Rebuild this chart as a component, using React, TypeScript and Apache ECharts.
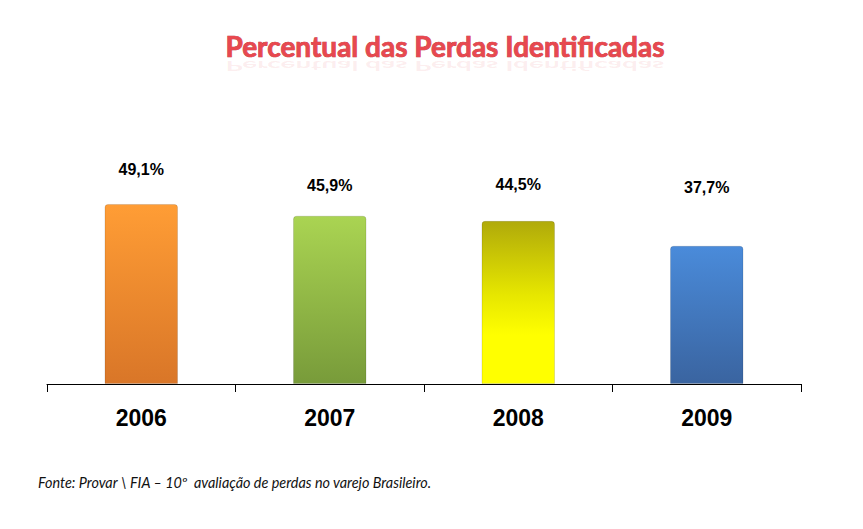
import React, { useEffect, useRef } from "react";
import * as echarts from "echarts";

const categories = ["2006", "2007", "2008", "2009"];
const values = [49.1, 45.9, 44.5, 37.7];
const valueLabels = ["49,1%", "45,9%", "44,5%", "37,7%"];
const labelDistances = [26, 22, 28, 50];
const barColors = [
  ["#FF9D35", "#D97628"],
  ["#AAD452", "#789B3A"],
  ["#B0AA0A", "#E6E600", "#FFFF00"],
  ["#4A8BDA", "#3A64A0"],
];
const titleText = "Percentual das Perdas Identificadas";
const sourceText = "Fonte: Provar \\ FIA – 10º  avaliação de perdas no varejo Brasileiro.";

export default function App() {
  const ref = useRef<HTMLDivElement>(null);
  useEffect(() => {
    if (!ref.current) return;
    const chart = echarts.init(ref.current, null, { renderer: "svg" });
    const data = values.map((v, i) => {
      const c = barColors[i];
      const stops =
        c.length === 3
          ? [
              { offset: 0, color: c[0] },
              { offset: 0.45, color: c[1] },
              { offset: 0.7, color: c[2] },
              { offset: 1, color: c[2] },
            ]
          : [
              { offset: 0, color: c[0] },
              { offset: 1, color: c[1] },
            ];
      return {
        value: v,
        itemStyle: {
          color: new echarts.graphic.LinearGradient(0, 0, 0, 1, stops),
          borderRadius: [3, 3, 0, 0],
          borderColor: "rgba(0,0,0,0.12)",
          borderWidth: 1,
        },
        label: { distance: labelDistances[i] },
      };
    });
    chart.setOption({
      animation: false,
      backgroundColor: "#ffffff",
      grid: { left: 47, right: 62, top: 164, bottom: 145 },
      xAxis: {
        type: "category",
        data: categories,
        axisLine: { lineStyle: { color: "#000", width: 1 } },
        axisTick: { show: true, length: 8, lineStyle: { color: "#000" } },
        axisLabel: {
          color: "#000",
          fontFamily: "Liberation Sans, Arial, sans-serif",
          fontWeight: "bold",
          fontSize: 23,
          margin: 22,
        },
      },
      yAxis: {
        type: "value",
        min: 0,
        max: 60,
        show: false,
        splitLine: { show: false },
      },
      series: [
        {
          type: "bar",
          data,
          barWidth: "39%",
          label: {
            show: true,
            position: "top",
            color: "#000",
            fontFamily: "Liberation Sans, Arial, sans-serif",
            fontWeight: "bold",
            fontSize: 16,
            formatter: (p: any) => valueLabels[p.dataIndex],
          },
        },
      ],
      graphic: [
        {
          type: "text",
          x: 445,
          y: 59,
          scaleY: -0.5,
          style: {
            text: titleText,
            fontFamily: "Lato, sans-serif",
            fontWeight: "bold",
            fontSize: 28,
            fill: "rgba(230,80,85,0.10)",
            align: "center",
            verticalAlign: "bottom",
          },
        },
        {
          type: "text",
          x: 445,
          y: 60,
          style: {
            text: titleText,
            fontFamily: "Lato, sans-serif",
            fontWeight: "bold",
            fontSize: 28,
            fill: "#E8484F",
            stroke: "#B8252C",
            lineWidth: 0.7,
            align: "center",
            verticalAlign: "bottom",
          },
        },
        {
          type: "text",
          left: 38,
          top: 475,
          style: {
            text: sourceText,
            fontFamily: "Lato, sans-serif",
            fontStyle: "italic",
            fontSize: 14.4,
            fill: "#111",
          },
        },
      ],
    });
    return () => chart.dispose();
  }, []);
  return (
    <div
      ref={ref}
      style={{ position: "absolute", left: 0, top: 0, width: 863, height: 529 }}
    />
  );
}
